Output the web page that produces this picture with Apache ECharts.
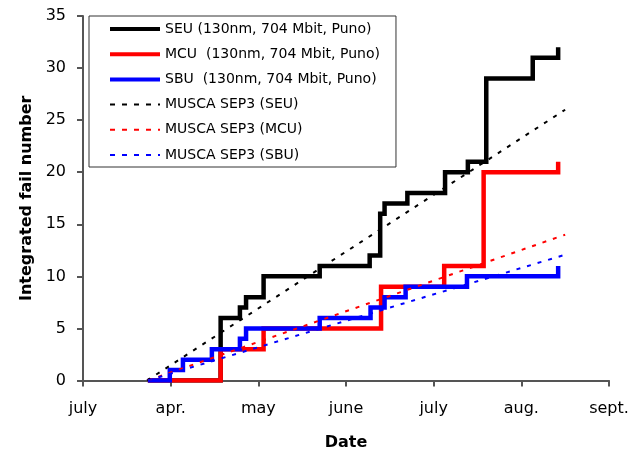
<!DOCTYPE html>
<html>
<head>
<meta charset="utf-8">
<script src="https://cdn.jsdelivr.net/npm/echarts@6/dist/echarts.min.js"></script>
<style>
html,body{margin:0;padding:0;background:#fff;}
#chart{width:642px;height:454px;}
</style>
</head>
<body>
<div id="chart"></div>
<script>
// x positions are in months from the first axis tick ("july" = 0, "apr." = 1, ...)
var monthLabels = ["july", "apr.", "may", "june", "july", "aug.", "sept."];

var seuX = [0.74, 1.57, 1.79, 1.86, 2.06, 2.70, 3.27, 3.39, 3.44, 3.70, 4.13, 4.39, 4.60, 5.13, 5.42];
var seuY = [0, 6, 7, 8, 10, 11, 12, 16, 17, 18, 20, 21, 29, 31, 32];

var mcuX = [0.74, 1.57, 2.06, 3.40, 4.12, 4.57, 5.42];
var mcuY = [0, 3, 5, 9, 11, 20, 21];

var sbuX = [0.74, 0.99, 1.14, 1.47, 1.79, 1.86, 2.70, 3.28, 3.44, 3.68, 4.38, 5.42];
var sbuY = [0, 1, 2, 3, 4, 5, 6, 7, 8, 9, 10, 11];

var muscaSeuX = [0.73, 5.50];
var muscaSeuY = [0, 26];
var muscaMcuX = [0.74, 5.50];
var muscaMcuY = [0, 14];
var muscaSbuX = [0.74, 5.51];
var muscaSbuY = [0, 12.1];

var names = [
  "SEU (130nm, 704 Mbit, Puno)",
  "MCU  (130nm, 704 Mbit, Puno)",
  "SBU  (130nm, 704 Mbit, Puno)",
  "MUSCA SEP3 (SEU)",
  "MUSCA SEP3 (MCU)",
  "MUSCA SEP3 (SBU)"
];

function pairs(xs, ys) {
  return xs.map(function (x, i) { return [x, ys[i]]; });
}

var FONT = "DejaVu Sans";
var SOLID_W = 4.5, DASH_W = 2, DASH = [4, 7];

function solid(name, xs, ys, color) {
  return {
    name: name, type: 'line', step: 'end', data: pairs(xs, ys),
    symbol: 'none', showSymbol: false, animation: false,
    lineStyle: { color: color, width: SOLID_W, cap: 'butt', join: 'miter' },
    itemStyle: { color: color },
    emphasis: { disabled: true }
  };
}
function dashed(name, xs, ys, color) {
  return {
    name: name, type: 'line', data: pairs(xs, ys),
    symbol: 'none', showSymbol: false, animation: false,
    lineStyle: { color: color, width: DASH_W, type: DASH, cap: 'butt' },
    itemStyle: { color: color },
    emphasis: { disabled: true }
  };
}

var legendData = names.map(function (n, i) {
  return i < 3
    ? { name: n, lineStyle: { width: 4, type: 'solid' } }
    : { name: n, lineStyle: { width: 2, type: [5, 7] } };
});

var chart = echarts.init(document.getElementById('chart'), null, { renderer: 'canvas' });
chart.setOption({
  backgroundColor: '#fff',
  animation: false,
  textStyle: { fontFamily: FONT },
  grid: { left: 83, right: 33, top: 16, bottom: 73.5, containLabel: false, outerBoundsMode: 'none' },
  legend: {
    show: true,
    orient: 'vertical',
    left: 89, top: 16,
    padding: [6, 16, 5, 19],
    borderColor: '#333', borderWidth: 1,
    itemWidth: 50, itemHeight: 14, itemGap: 11.2,
    itemStyle: { opacity: 0 },
    textStyle: { fontFamily: FONT, fontSize: 14, lineHeight: 14, color: '#000' },
    data: legendData,
    selectedMode: false
  },
  xAxis: {
    type: 'value', min: 0, max: 6, interval: 1,
    name: 'Date', nameLocation: 'middle', nameGap: 54,
    nameTextStyle: { fontFamily: FONT, fontSize: 16, fontWeight: 'bold', color: '#000' },
    axisLine: { show: true, onZero: false, lineStyle: { color: '#555', width: 2 } },
    axisTick: { show: true, length: 6, inside: false, lineStyle: { color: '#555', width: 2 } },
    axisLabel: {
      margin: 20, fontFamily: FONT, fontSize: 16, color: '#000',
      formatter: function (v) { return monthLabels[Math.round(v)] || ''; }
    },
    splitLine: { show: false }
  },
  yAxis: {
    type: 'value', min: 0, max: 35, interval: 5,
    name: 'Integrated fail number', nameLocation: 'middle', nameGap: 47, nameRotate: 90,
    nameTextStyle: { fontFamily: FONT, fontSize: 16, fontWeight: 'bold', color: '#000' },
    axisLine: { show: true, lineStyle: { color: '#555', width: 2 } },
    axisTick: { show: true, length: 6, inside: false, lineStyle: { color: '#555', width: 2 } },
    axisLabel: { margin: 17, fontFamily: FONT, fontSize: 16, color: '#000' },
    splitLine: { show: false }
  },
  series: [
    solid(names[0], seuX, seuY, '#000000'),
    solid(names[1], mcuX, mcuY, '#ff0000'),
    solid(names[2], sbuX, sbuY, '#0000ff'),
    dashed(names[3], muscaSeuX, muscaSeuY, '#000000'),
    dashed(names[4], muscaMcuX, muscaMcuY, '#ff0000'),
    dashed(names[5], muscaSbuX, muscaSbuY, '#0000ff')
  ]
});
</script>
</body>
</html>
